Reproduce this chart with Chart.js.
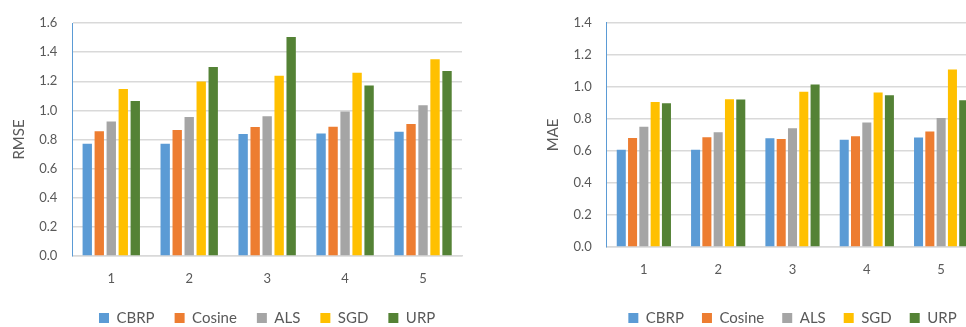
<!DOCTYPE html>
<html>
<head>
<meta charset="utf-8">
<script src="https://cdn.jsdelivr.net/npm/chart.js@4.4.1/dist/chart.umd.min.js"></script>
<style>
  html, body { margin: 0; padding: 0; background: #fff; overflow: hidden; width: 966px; height: 327px; }
  #left { position: absolute; left: 0; top: 0; width: 480px; height: 327px; }
  #right { position: absolute; left: 480px; top: 0; width: 530px; height: 327px; }
</style>
</head>
<body>
<div id="left"><canvas id="rmseChart" width="480" height="327"></canvas></div>
<div id="right"><canvas id="maeChart" width="530" height="327"></canvas></div>
<script>
const categories = ["1", "2", "3", "4", "5"];
const seriesNames = ["CBRP", "Cosine", "ALS", "SGD", "URP"];
const seriesColors = ["#5B9BD5", "#ED7D31", "#A5A5A5", "#FFC000", "#548235"];

// RMSE (left chart)
const rmseCBRP   = [0.770, 0.770, 0.837, 0.841, 0.853];
const rmseCosine = [0.857, 0.866, 0.885, 0.887, 0.907];
const rmseALS    = [0.923, 0.955, 0.960, 0.992, 1.035];
const rmseSGD    = [1.147, 1.198, 1.237, 1.259, 1.351];
const rmseURP    = [1.065, 1.298, 1.504, 1.170, 1.271];

// MAE (right chart)
const maeCBRP   = [0.607, 0.607, 0.679, 0.669, 0.683];
const maeCosine = [0.681, 0.685, 0.675, 0.691, 0.721];
const maeALS    = [0.751, 0.717, 0.741, 0.777, 0.805];
const maeSGD    = [0.905, 0.923, 0.969, 0.965, 1.108];
const maeURP    = [0.897, 0.921, 1.015, 0.947, 0.917];

const textColor = "#595959";
const fontFamily = "Lato, 'Liberation Sans', sans-serif";

function makeChart(id, series, yMax, yTitle, L) {
  new Chart(document.getElementById(id), {
    type: "bar",
    data: {
      labels: categories,
      datasets: series.map((d, i) => ({
        label: seriesNames[i],
        data: d,
        backgroundColor: seriesColors[i],
        borderWidth: 0,
        categoryPercentage: L.catPct,
        barPercentage: L.barPct,
      })),
    },
    options: {
      responsive: false,
      animation: false,
      layout: {
        padding: { left: L.padLeft, right: L.padRight, top: L.padTop, bottom: L.padBottom },
      },
      plugins: {
        tooltip: { enabled: false },
        legend: {
          position: "bottom",
          fullSize: false,
          labels: {
            color: textColor,
            font: { family: fontFamily, size: 15 },
            boxWidth: 10,
            boxHeight: 10,
            padding: L.legendPad,
          },
        },
      },
      scales: {
        x: {
          grid: { display: false, drawTicks: false },
          border: { color: "#D9D9D9", width: 1.5 },
          ticks: { color: textColor, font: { family: fontFamily, size: 13 }, padding: 15 },
          afterFit: (s) => { s.height = L.xHeight; },
        },
        y: {
          min: 0,
          max: yMax,
          grid: { color: "#D9D9D9", lineWidth: 1.5, drawTicks: false },
          border: { color: "#5B9BD5", width: 1 },
          ticks: {
            stepSize: 0.2,
            color: textColor,
            font: { family: fontFamily, size: 13 },
            padding: 15,
            callback: (v) => v.toFixed(1),
          },
          title: {
            display: true,
            text: yTitle,
            color: textColor,
            font: { family: fontFamily, size: 15 },
          },
          afterFit: (s) => { s.width = L.yWidth; },
        },
      },
    },
  });
}

makeChart("rmseChart", [rmseCBRP, rmseCosine, rmseALS, rmseSGD, rmseURP], 1.6, "RMSE", {
  padLeft: 6.6, yWidth: 65.7, padRight: 18, padTop: 23, padBottom: -8.5, xHeight: 34.5,
  legendPad: 20, catPct: 0.77, barPct: 0.78,
});

makeChart("maeChart", [maeCBRP, maeCosine, maeALS, maeSGD, maeURP], 1.4, "MAE", {
  padLeft: 60.3, yWidth: 66.4, padRight: 31.7, padTop: 14, padBottom: -8.5, xHeight: 45.5,
  legendPad: 18, catPct: 0.76, barPct: 0.8,
});
</script>
</body>
</html>
